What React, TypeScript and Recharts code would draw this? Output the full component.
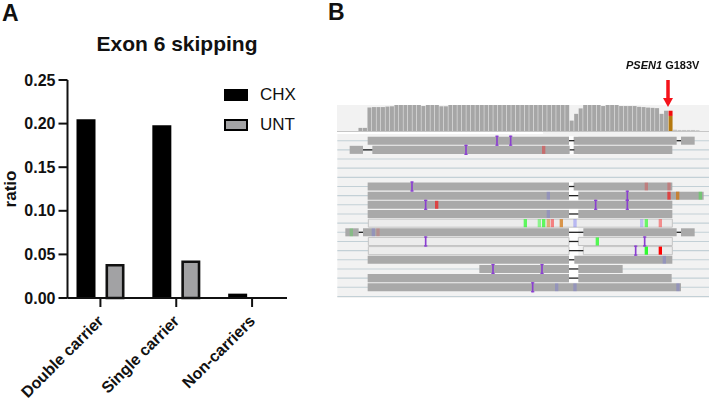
import React from "react";
import {
  BarChart,
  Bar,
  Cell,
  XAxis,
  YAxis,
  Legend,
  ScatterChart,
  ReferenceArea,
  ReferenceLine,
  Rectangle,
} from "recharts";

const FONT = "'Liberation Sans', Arial, sans-serif";

// panel A
const groups = ["Double carrier", "Single carrier", "Non-carriers"];
const chxValues = [0.205, 0.198, 0.005];
const untValues = [0.039, 0.043, 0];
const ratioTicks = [0, 0.05, 0.1, 0.15, 0.2, 0.25];

const skipping = groups.map((group, i) => ({
  group,
  CHX: chxValues[i],
  UNT: untValues[i],
}));

// panel B, coverage track: one value per column, % of the track height
const coverage = [
  0, 0, 0, 0, 0, 12, 12,
  90, 92, 92, 92, 94, 95, 100, 100, 100, 100, 100, 100, 96, 100, 100, 100, 95, 95,
  100, 100, 100, 100, 100, 100, 100, 100, 100, 100, 100, 100, 100, 100, 100, 100, 100, 100,
  100, 100, 100, 100, 100, 100, 100, 100, 100, 40, 66, 87,
  100, 100, 100, 100, 96, 100, 100, 100, 96, 96, 96, 96, 93, 92, 90, 89, 88, 66, 78,
  58,
  5, 4, 4, 4, 4, 3, 0, 0,
];
const variantColumn = 74;
const variantAltDepth = 20;

const coverageRows = coverage.map((depth, column) => ({
  column,
  depth,
  alt: column === variantColumn ? variantAltDepth : 0,
}));

// panel B, read track: [row, start, end]
const solidBlocks = [
  [0, 113, 717], [0, 731, 1040], [0, 1053, 1094],
  [1, 59, 99], [1, 127, 719], [1, 731, 1027],
  [5, 113, 717], [5, 731, 1027],
  [6, 113, 717], [6, 745, 1121],
  [7, 113, 1027],
  [8, 113, 717], [8, 745, 1027],
  [10, 46, 86], [10, 99, 717], [10, 760, 1040], [10, 1053, 1094],
  [13, 113, 717], [13, 733, 1027],
  [14, 448, 717], [14, 745, 878],
  [15, 113, 717], [15, 745, 1025],
  [16, 113, 1053],
];
const paleBlocks = [
  [9, 115, 1027],
  [11, 115, 717], [11, 745, 1027],
  [12, 115, 717], [12, 760, 1027],
];
const spliceGaps = [
  [0, 717, 733], [0, 1040, 1053],
  [1, 99, 127], [1, 719, 733],
  [5, 717, 733],
  [6, 717, 745],
  [8, 717, 745],
  [10, 86, 99], [10, 717, 760], [10, 1040, 1053],
  [11, 717, 745],
  [12, 717, 760],
  [13, 717, 733],
  [14, 717, 745],
  [15, 717, 745],
];
// [row, position, base, base quality]
const mismatches: [number, number, string, number][] = [
  [1, 641, "T", 0.35],
  [5, 949, "T", 0.25], [5, 1017, "T", 0.25],
  [6, 655, "C", 0.2], [6, 1017, "T", 0.6], [6, 1043, "G", 0.7], [6, 1111, "A", 0.3],
  [7, 320, "T", 0.6],
  [8, 655, "C", 0.2],
  [9, 586, "A", 0.6], [9, 628, "A", 0.4], [9, 641, "A", 0.6], [9, 655, "G", 0.5],
  [9, 667, "T", 0.45], [9, 694, "G", 0.7], [9, 735, "C", 0.3], [9, 935, "C", 0.25],
  [9, 949, "A", 0.55], [9, 991, "T", 0.4],
  [10, 64, "A", 0.2], [10, 130, "C", 0.2], [10, 144, "T", 0.15],
  [11, 802, "A", 0.65],
  [12, 949, "A", 0.8], [12, 991, "T", 1],
  [13, 1003, "C", 0.2],
  [16, 680, "C", 0.2], [16, 735, "C", 0.2], [16, 1044, "C", 0.2],
];
// [row, position]
const insertions = [
  [0, 501], [0, 542], [1, 408],
  [5, 246], [6, 892], [7, 287], [7, 797], [7, 892],
  [11, 287], [11, 944], [12, 917],
  [14, 489], [14, 636], [16, 608],
];
const rowLines = [0, 1, 2, 3, 4, 5, 6, 7, 8, 9, 10, 11, 12, 13, 14, 15, 16, 17];

const baseColors: Record<string, string> = {
  A: "#00ff00",
  C: "#4040ff",
  G: "#d17105",
  T: "#ff0000",
};
const READ_GRAY = "#a9a9a9";
const PANEL_GRAY = "#f2f2f2";

function UntBar(props: any) {
  const { x, y, width, height } = props;
  if (!height) return null;
  return (
    <Rectangle
      x={x + 1.3}
      y={y + 1.3}
      width={width - 2.6}
      height={height - 1.3}
      fill="#a2a2a4"
      stroke="#111"
      strokeWidth={2.6}
    />
  );
}

function GroupTick({ x, y, payload }: any) {
  return (
    <text
      transform={`translate(${x + 4},${y + 13}) rotate(-45)`}
      textAnchor="end"
      fontFamily={FONT}
      fontWeight="bold"
      fontSize={16}
      fill="#111"
    >
      {payload.value}
    </text>
  );
}

function SkipLegend({ payload }: any) {
  return (
    <div>
      {(payload || []).map((entry: any) => (
        <div
          key={entry.value}
          style={{ display: "flex", alignItems: "center", height: 30, fontFamily: FONT, fontSize: 17, color: "#111" }}
        >
          <span
            style={{
              boxSizing: "border-box",
              width: 24,
              height: 12,
              marginRight: 12,
              background: entry.value === "UNT" ? "#a2a2a4" : "#000",
              border: "2.6px solid #000",
            }}
          />
          {entry.value}
        </div>
      ))}
    </div>
  );
}

function SkippingChart() {
  return (
    <BarChart
      width={320}
      height={402}
      data={skipping}
      margin={{ top: 80, right: 33, bottom: 74, left: 7.5 }}
      barSize={19}
      barGap={10}
    >
      <text x={177} y={51} textAnchor="middle" fontFamily={FONT} fontWeight="bold" fontSize={21} fill="#111">
        Exon 6 skipping
      </text>
      <text
        transform="translate(16,189) rotate(-90)"
        textAnchor="middle"
        fontFamily={FONT}
        fontWeight="bold"
        fontSize={17}
        fill="#111"
      >
        ratio
      </text>
      <XAxis
        dataKey="group"
        interval={0}
        padding={{ left: -5, right: -3 }}
        axisLine={{ stroke: "#111", strokeWidth: 2 }}
        tickLine={{ stroke: "#111", strokeWidth: 2 }}
        tickSize={9}
        tick={<GroupTick />}
      />
      <YAxis
        width={60}
        domain={[0, 0.25]}
        ticks={ratioTicks}
        tickFormatter={(v: number) => v.toFixed(2)}
        axisLine={{ stroke: "#111", strokeWidth: 2 }}
        tickLine={{ stroke: "#111", strokeWidth: 2 }}
        tickSize={9}
        tickMargin={3}
        tick={{ fontFamily: FONT, fontWeight: "bold", fontSize: 16, fill: "#111" }}
      />
      <Legend
        content={<SkipLegend />}
        layout="vertical"
        align="center"
        verticalAlign="middle"
        wrapperStyle={{ position: "absolute", left: 224, top: 80, width: 90, bottom: "auto" }}
      />
      <Bar dataKey="CHX" fill="#000" isAnimationActive={false} />
      <Bar dataKey="UNT" fill="#a2a2a4" shape={<UntBar />} isAnimationActive={false} />
    </BarChart>
  );
}

function CoverageTrack() {
  return (
    <BarChart
      width={373}
      height={26}
      data={coverageRows}
      margin={{ top: 0, right: 0, bottom: 0, left: 0 }}
      barCategoryGap={0}
    >
      <XAxis dataKey="column" hide />
      <YAxis hide domain={[0, 100]} />
      <Bar dataKey="depth" stackId="reads" fill="#a6a6a6" isAnimationActive={false}>
        {coverageRows.map((row) => (
          <Cell
            key={row.column}
            fill={row.column === variantColumn ? "#b5790f" : row.column > variantColumn ? "#c4c4c4" : "#a6a6a6"}
          />
        ))}
      </Bar>
      <Bar dataKey="alt" stackId="reads" fill="#f20d0d" isAnimationActive={false} />
    </BarChart>
  );
}

function ReadTrack() {
  const half = 0.44;
  return (
    <ScatterChart width={373} height={164} margin={{ top: 0, right: 0, bottom: 0, left: 0 }}>
      <XAxis type="number" dataKey="x" hide domain={[18, 1137]} allowDataOverflow />
      <YAxis type="number" dataKey="y" hide reversed domain={[-0.73, 17.17]} allowDataOverflow />
      <ReferenceArea x1={22} x2={1137} y1={-0.73} y2={17.17} fill={PANEL_GRAY} fillOpacity={1} stroke="none" />
      {rowLines.map((row) => (
        <ReferenceArea
          key={row}
          x1={22}
          x2={1137}
          y1={row - 0.06}
          y2={row + 0.06}
          fill="#c3d0d6"
          fillOpacity={1}
          stroke="none"
        />
      ))}
      <ReferenceArea x1={717} x2={745} y1={-0.5} y2={1.5} fill="#fff" fillOpacity={0.9} stroke="none" />
      <ReferenceArea x1={717} x2={745} y1={4.5} y2={15.5} fill="#fff" fillOpacity={0.9} stroke="none" />
      {paleBlocks.map(([row, start, end]) => (
        <ReferenceArea
          key={`p${row}-${start}`}
          x1={start}
          x2={end}
          y1={row - half}
          y2={row + half}
          fill="#ececec"
          fillOpacity={1}
          stroke="#c4c4c4"
        />
      ))}
      {solidBlocks.map(([row, start, end]) => (
        <ReferenceArea
          key={`s${row}-${start}`}
          x1={start}
          x2={end}
          y1={row - half}
          y2={row + half}
          fill={READ_GRAY}
          fillOpacity={1}
          stroke="none"
        />
      ))}
      {spliceGaps.map(([row, start, end]) => (
        <ReferenceLine
          key={`g${row}-${start}`}
          segment={[{ x: start, y: row }, { x: end, y: row }]}
          stroke="#222"
          strokeWidth={1.3}
        />
      ))}
      {mismatches.map(([row, pos, base, quality]) => (
        <ReferenceArea
          key={`m${row}-${pos}`}
          x1={pos - 5}
          x2={pos + 5}
          y1={row - half}
          y2={row + half}
          fill={baseColors[base]}
          fillOpacity={quality}
          stroke="none"
        />
      ))}
      {insertions.map(([row, pos]) => (
        <React.Fragment key={`i${row}-${pos}`}>
          <ReferenceArea x1={pos - 2.5} x2={pos + 2.5} y1={row - 0.55} y2={row + 0.55} fill="#8a3fd0" fillOpacity={1} stroke="none" />
          <ReferenceArea x1={pos - 5} x2={pos + 5} y1={row - 0.55} y2={row - 0.42} fill="#8a3fd0" fillOpacity={1} stroke="none" />
          <ReferenceArea x1={pos - 5} x2={pos + 5} y1={row + 0.42} y2={row + 0.55} fill="#8a3fd0" fillOpacity={1} stroke="none" />
        </React.Fragment>
      ))}
    </ScatterChart>
  );
}

const panelLetter: React.CSSProperties = {
  position: "absolute",
  width: 30,
  height: 26,
  fontFamily: FONT,
  fontWeight: "bold",
  fontSize: 23,
  lineHeight: "26px",
  color: "#111",
};

export default function App() {
  return (
    <div style={{ position: "absolute", left: 0, top: 0, width: 709, height: 402, background: "#fff", overflow: "hidden" }}>
      <div style={{ position: "absolute", left: 0, top: 0 }}>
        <SkippingChart />
      </div>

      <div style={{ position: "absolute", left: 0, top: 0, width: 709, height: 402, filter: "blur(0.45px)" }}>
        <div style={{ position: "absolute", left: 337, top: 105, width: 372, height: 26, background: PANEL_GRAY }} />
        <div style={{ position: "absolute", left: 543, top: 131, width: 166, height: 4, background: PANEL_GRAY }} />
        <div style={{ position: "absolute", left: 336, top: 105 }}>
          <CoverageTrack />
        </div>
        <div style={{ position: "absolute", left: 337, top: 130.5, width: 372, height: 1, background: "#c6c6c6" }} />
        <div style={{ position: "absolute", left: 336, top: 134 }}>
          <ReadTrack />
        </div>
        <svg width={709} height={402} style={{ position: "absolute", left: 0, top: 0 }}>
          <text x={626} y={69} fontFamily={FONT} fontWeight="bold" fontSize={11} fill="#111">
            <tspan fontStyle="italic">PSEN1</tspan> G183V
          </text>
          <line x1={668} y1={80} x2={668} y2={99} stroke="#f5121a" strokeWidth={3.5} />
          <polygon points="663,98 673,98 668,107" fill="#f5121a" />
        </svg>
      </div>

      <div style={{ ...panelLetter, left: 2, top: 0 }}>A</div>
      <div style={{ ...panelLetter, left: 328, top: -1 }}>B</div>
    </div>
  );
}
